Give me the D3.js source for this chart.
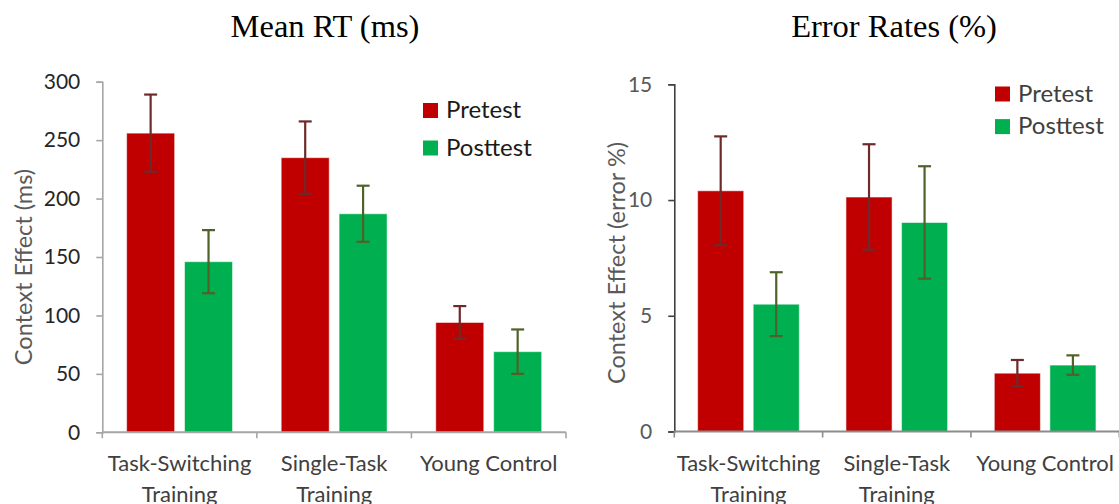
<!DOCTYPE html>
<html>
<head>
<meta charset="utf-8">
<script src="https://cdn.jsdelivr.net/npm/d3@7"></script>
<style>
  html, body { margin: 0; padding: 0; background: #fff; }
  svg { display: block; }
</style>
</head>
<body>
<svg id="chart" width="1119" height="504"></svg>
<script>
// Groups and sessions
const groups = [["Task-Switching", "Training"], ["Single-Task", "Training"], ["Young Control"]];
const groupKeys = ["Task-Switching Training", "Single-Task Training", "Young Control"];
const sessions = ["Pretest", "Posttest"];

// Mean RT context effect (ms) with error bars
const rtPretest = [256, 235, 94];
const rtPretestErr = [33, 31, 14];
const rtPosttest = [146, 187, 69];
const rtPosttestErr = [27, 24, 19];
const rtTicks = [0, 50, 100, 150, 200, 250, 300];

// Error-rate context effect (%) with error bars
const erPretest = [10.4, 10.13, 2.52];
const erPretestErr = [2.35, 2.28, 0.57];
const erPosttest = [5.5, 9.03, 2.87];
const erPosttestErr = [1.38, 2.43, 0.42];
const erTicks = [0, 5, 10, 15];

const colors = { Pretest: "#c00000", Posttest: "#00b050" };
const errColors = { Pretest: "#6e2a2a", Posttest: "#4f6228" };

const svg = d3.select("#chart");
const sansFont = "Lato, 'Open Sans', sans-serif";
const serifFont = "'Liberation Serif', serif";

function panel(cfg) {
  const g = svg.append("g");
  const x = d3.scaleBand().domain(groupKeys).range([cfg.x0, cfg.x1]).padding(0);
  const xi = d3.scaleBand().domain(sessions).range([0, x.bandwidth()])
    .paddingInner(0.17).paddingOuter(0.42);
  const y = d3.scaleLinear().domain([0, cfg.max]).range([cfg.y0, cfg.y1]);

  const rows = [];
  groupKeys.forEach((k, i) => {
    rows.push({ g: k, s: "Pretest", v: cfg.pre[i], e: cfg.preErr[i] });
    rows.push({ g: k, s: "Posttest", v: cfg.post[i], e: cfg.postErr[i] });
  });

  // bars
  g.selectAll("rect.bar").data(rows).join("rect")
    .attr("class", "bar")
    .attr("x", d => x(d.g) + xi(d.s))
    .attr("width", xi.bandwidth())
    .attr("y", d => y(d.v))
    .attr("height", d => y(0) - y(d.v))
    .attr("fill", d => colors[d.s])
    .attr("stroke", "rgba(255,255,255,0.55)")
    .attr("stroke-width", 1);

  // error bars
  const cap = 6.5;
  const cx = d => x(d.g) + xi(d.s) + xi.bandwidth() / 2;
  const eb = g.selectAll("g.err").data(rows).join("g").attr("class", "err")
    .attr("stroke", d => errColors[d.s]).attr("stroke-width", 2.2);
  eb.append("line")
    .attr("x1", cx).attr("x2", cx)
    .attr("y1", d => y(d.v + d.e)).attr("y2", d => y(d.v - d.e));
  eb.append("line")
    .attr("x1", d => cx(d) - cap).attr("x2", d => cx(d) + cap)
    .attr("y1", d => y(d.v + d.e)).attr("y2", d => y(d.v + d.e));
  eb.append("line")
    .attr("x1", d => cx(d) - cap).attr("x2", d => cx(d) + cap)
    .attr("y1", d => y(d.v - d.e)).attr("y2", d => y(d.v - d.e));

  // y axis
  const ya = g.append("g").attr("transform", `translate(${cfg.x0},0)`)
    .call(d3.axisLeft(y).tickValues(cfg.ticks).tickSize(6).tickPadding(16));
  ya.select(".domain").attr("stroke", cfg.yAxisColor).attr("stroke-width", 1.6);
  ya.selectAll(".tick line").attr("stroke", cfg.yAxisColor).attr("stroke-width", 1.6);
  ya.selectAll(".tick text").attr("font-family", sansFont).attr("font-size", 21)
    .attr("fill", cfg.tickTextColor);

  // x axis: baseline with ticks on group boundaries
  const bounds = groupKeys.map(k => x(k)).concat([cfg.x1]);
  g.append("line").attr("x1", cfg.x0).attr("x2", cfg.x1)
    .attr("y1", y(0)).attr("y2", y(0))
    .attr("stroke", cfg.xAxisColor).attr("stroke-width", 2);
  g.selectAll("line.xt").data(bounds).join("line").attr("class", "xt")
    .attr("x1", d => d).attr("x2", d => d)
    .attr("y1", y(0)).attr("y2", y(0) + 6)
    .attr("stroke", cfg.xAxisColor).attr("stroke-width", 1.6);

  // category labels
  groupKeys.forEach((k, i) => {
    const t = g.append("text")
      .attr("x", x(k) + x.bandwidth() / 2)
      .attr("y", y(0) + 39)
      .attr("text-anchor", "middle")
      .attr("font-family", sansFont).attr("font-size", 22)
      .attr("fill", "#404040");
    groups[i].forEach((line, j) => {
      t.append("tspan").attr("x", x(k) + x.bandwidth() / 2)
        .attr("dy", j === 0 ? 0 : 31).text(line);
    });
  });

  // y axis title
  g.append("text")
    .attr("transform", `translate(${cfg.titleX},${cfg.titleY}) rotate(-90)`)
    .attr("text-anchor", "middle").attr("dominant-baseline", "central")
    .attr("font-family", sansFont).attr("font-size", 23.5)
    .attr("fill", "#595959").text(cfg.yTitle);

  // chart title
  g.append("text")
    .attr("x", cfg.headX).attr("y", 37)
    .attr("text-anchor", "middle")
    .attr("font-family", serifFont).attr("font-size", 32.5)
    .attr("fill", "#000").text(cfg.head);

  // legend
  const lg = g.append("g");
  sessions.forEach((s, i) => {
    const ly = cfg.legY + i * cfg.legStep;
    lg.append("rect").attr("x", cfg.legX).attr("y", ly - 15)
      .attr("width", 15).attr("height", 15).attr("fill", colors[s]);
    lg.append("text").attr("x", cfg.legX + 23).attr("y", ly)
      .attr("font-family", sansFont).attr("font-size", 24)
      .attr("fill", cfg.legTextColor).text(s);
  });
}

panel({
  x0: 102.3, x1: 566, y0: 432.3, y1: 81.7, max: 300, ticks: rtTicks,
  pre: rtPretest, preErr: rtPretestErr, post: rtPosttest, postErr: rtPosttestErr,
  yAxisColor: "#a6a6a6", xAxisColor: "#a6a6a6", tickTextColor: "#262626",
  yTitle: "Context Effect (ms)", titleX: 23, titleY: 267,
  head: "Mean RT (ms)", headX: 325,
  legX: 423, legY: 118, legStep: 37.5, legTextColor: "#1a1a1a"
});

panel({
  x0: 674.3, x1: 1119.3, y0: 431.5, y1: 84.3, max: 15, ticks: erTicks,
  pre: erPretest, preErr: erPretestErr, post: erPosttest, postErr: erPosttestErr,
  yAxisColor: "#404040", xAxisColor: "#8c8c8c", tickTextColor: "#595959",
  yTitle: "Context Effect (error %)", titleX: 616, titleY: 263,
  head: "Error Rates (%)", headX: 894,
  legX: 995, legY: 101.5, legStep: 32.6, legTextColor: "#404040"
});
</script>
</body>
</html>
